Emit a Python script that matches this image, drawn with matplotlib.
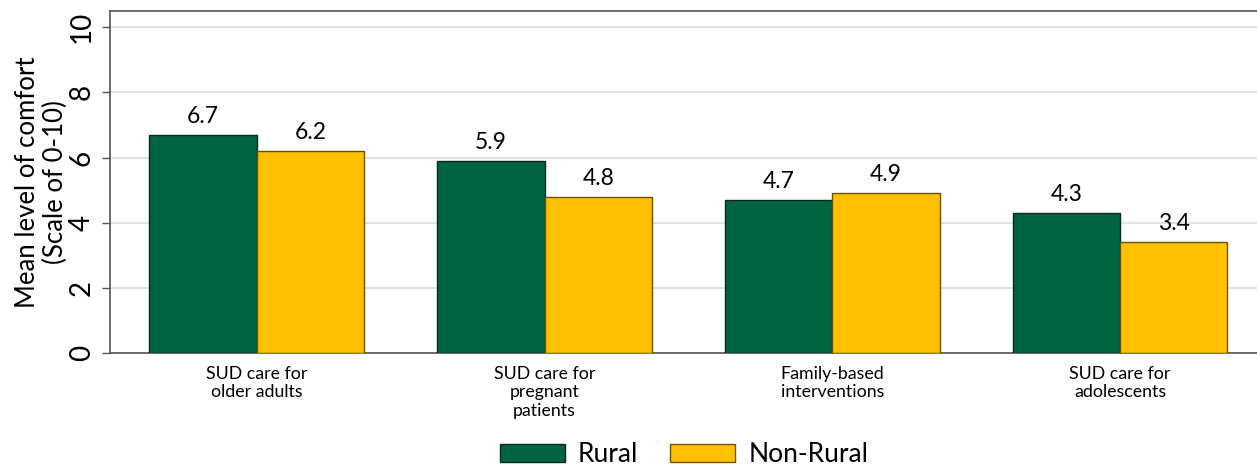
import numpy as np
import matplotlib
matplotlib.use("Agg")
import matplotlib.pyplot as plt

plt.rcParams['font.family'] = ['Lato', 'DejaVu Sans']

categories = ["SUD care for\nolder adults", "SUD care for\npregnant\npatients",
              "Family-based\ninterventions", "SUD care for\nadolescents"]
rural = [6.7, 5.9, 4.7, 4.3]
non_rural = [6.2, 4.8, 4.9, 3.4]

fig = plt.figure(figsize=(12.57, 4.65), dpi=100)
ax = fig.add_axes([110/1257, 1 - 353/465, 1147/1257, 342/465])

x = np.arange(len(categories))
w = 0.373
b1 = ax.bar(x - w/2, rural, w, color='#006443', edgecolor='#0b2a1a', linewidth=1, label='Rural', zorder=3)
b2 = ax.bar(x + w/2, non_rural, w, color='#FFC000', edgecolor='#6b5200', linewidth=1, label='Non-Rural', zorder=3)

for bars, vals in ((b1, rural), (b2, non_rural)):
    for r, v in zip(bars, vals):
        ax.text(r.get_x() + r.get_width()/2, v + 0.25, f"{v:.1f}", ha='center', va='bottom', fontsize=16.5)

ax.set_ylim(0, 10.5)
ax.set_xlim(-0.51, 3.476)
ax.set_yticks([0, 2, 4, 6, 8, 10])
ax.set_yticklabels(['0', '2', '4', '6', '8', '10'], rotation=90, va='center', fontsize=20)
ax.yaxis.grid(True, color='#dcdcdc', linewidth=1.2, zorder=0)
ax.set_xticks(x)
ax.set_xticklabels(categories, fontsize=12.8)
ax.tick_params(axis='x', length=0, pad=9)
ax.tick_params(axis='y', length=6, width=1, color='#555555', pad=5)
ax.set_ylabel("Mean level of comfort\n(Scale of 0-10)", fontsize=18.5, linespacing=1.1)
ax.yaxis.set_label_coords(-0.037, 0.5)

for s in ['left', 'bottom', 'top']:
    ax.spines[s].set_color('#555555')
    ax.spines[s].set_linewidth(1.2)
ax.spines['right'].set_visible(False)

fig.legend(handles=[b1, b2], loc='center', bbox_to_anchor=(684/1257, 0.022), ncol=2, frameon=False,
           fontsize=19, handlelength=2.46, handleheight=0.68, columnspacing=1.2, handletextpad=0.5,
           borderpad=0)

fig.savefig('out.png', dpi=100)
